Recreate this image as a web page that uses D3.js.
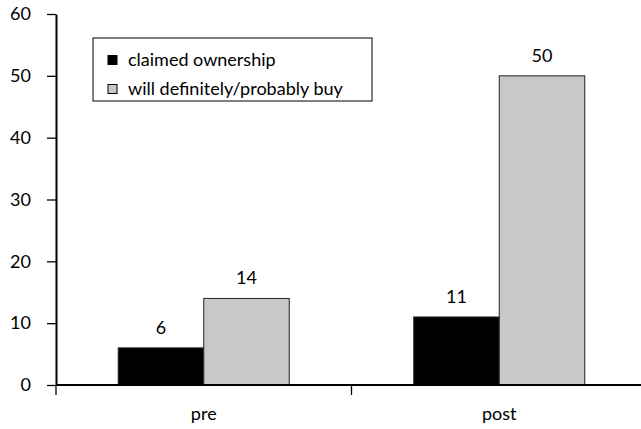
<!DOCTYPE html>
<html>
<head>
<meta charset="utf-8">
<script src="https://cdn.jsdelivr.net/npm/d3@7"></script>
<style>
  html, body { margin: 0; padding: 0; background: #fff; }
  svg { display: block; font-family: "Lato", "Open Sans", sans-serif; }
</style>
</head>
<body>
<svg id="chart" width="641" height="429"></svg>
<script>
// Survey results: claimed ownership vs. purchase intent, before and after
const categories = ["pre", "post"];
const seriesNames = ["claimed ownership", "will definitely/probably buy"];
const ownership = [6, 11];
const willBuy = [14, 50];
const yTicks = [0, 10, 20, 30, 40, 50, 60];
const seriesColors = ["#000000", "#c8c8c8"];

const FONT = 18;

const rows = categories.map((c, i) => ({
  category: c,
  values: [
    { key: seriesNames[0], value: ownership[i] },
    { key: seriesNames[1], value: willBuy[i] }
  ]
}));

const svg = d3.select("#chart");
const plot = { left: 56, right: 647, top: 14, bottom: 385 };

const y = d3.scaleLinear().domain([0, 60]).range([plot.bottom, plot.top]);
const x0 = d3.scaleBand().domain(categories).range([plot.left, plot.right]).padding(0);
const x1 = d3.scaleBand().domain(seriesNames).range([0, x0.bandwidth()])
  .paddingInner(0).paddingOuter(0.728);
const color = d3.scaleOrdinal().domain(seriesNames).range(seriesColors);

// Bars
const groups = svg.append("g").selectAll("g").data(rows).join("g")
  .attr("transform", d => `translate(${x0(d.category)},0)`);

groups.selectAll("rect").data(d => d.values).join("rect")
  .attr("x", d => x1(d.key))
  .attr("y", d => y(d.value))
  .attr("width", x1.bandwidth())
  .attr("height", d => y(0) - y(d.value))
  .attr("fill", d => color(d.key))
  .attr("stroke", "#222")
  .attr("stroke-width", 1);

// Value labels
groups.selectAll("text").data(d => d.values).join("text")
  .attr("x", d => x1(d.key) + x1.bandwidth() / 2)
  .attr("y", d => y(d.value) - 14)
  .attr("text-anchor", "middle")
  .attr("font-size", FONT)
  .attr("fill", "#000")
  .text(d => d.value);

// Y axis
const yAxis = d3.axisLeft(y).tickValues(yTicks).tickSize(9).tickSizeOuter(0).tickPadding(16);
const gy = svg.append("g").attr("transform", `translate(${plot.left},0)`).call(yAxis);
gy.select(".domain").attr("stroke", "#000").attr("stroke-width", 2);
gy.selectAll(".tick line").attr("stroke", "#000").attr("stroke-width", 1.3);
gy.selectAll(".tick text").attr("font-size", FONT).attr("fill", "#000")
  .attr("font-family", "Lato, 'Open Sans', sans-serif");

// X axis: category labels centred, tick marks at band boundaries
const gx = svg.append("g").attr("transform", `translate(0,${plot.bottom})`);
gx.append("line")
  .attr("x1", plot.left).attr("x2", plot.right)
  .attr("stroke", "#000").attr("stroke-width", 2);
const boundaries = [x0(categories[0]), x0(categories[1]), x0(categories[1]) + x0.bandwidth()];
gx.selectAll("line.tick").data(boundaries).join("line")
  .attr("class", "tick")
  .attr("x1", d => d).attr("x2", d => d)
  .attr("y1", 0).attr("y2", 10)
  .attr("stroke", "#000").attr("stroke-width", 1.3);
gx.selectAll("text").data(categories).join("text")
  .attr("x", d => x0(d) + x0.bandwidth() / 2)
  .attr("y", 35)
  .attr("text-anchor", "middle")
  .attr("font-size", FONT)
  .attr("fill", "#000")
  .text(d => d);

// Legend
const legend = svg.append("g");
legend.append("rect")
  .attr("x", 93).attr("y", 38).attr("width", 279).attr("height", 63)
  .attr("fill", "#fff").attr("stroke", "#000").attr("stroke-width", 1);
const items = legend.selectAll("g.item").data(seriesNames).join("g")
  .attr("class", "item")
  .attr("transform", (d, i) => `translate(108,${60 + i * 29})`);
items.append("rect")
  .attr("x", 0).attr("y", -4.5).attr("width", 9).attr("height", 9)
  .attr("fill", d => color(d)).attr("stroke", "#000").attr("stroke-width", 1);
items.append("text")
  .attr("x", 20).attr("y", 6)
  .attr("font-size", FONT)
  .attr("fill", "#000")
  .text(d => d);
</script>
</body>
</html>
